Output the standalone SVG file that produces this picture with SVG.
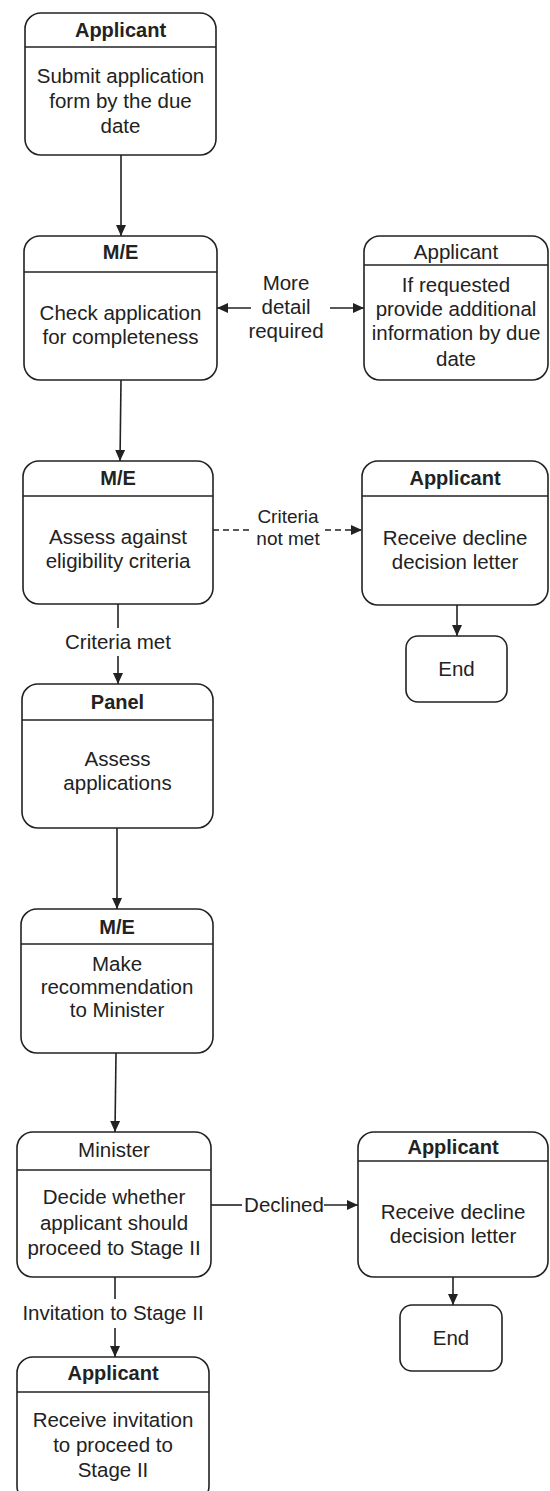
<svg xmlns="http://www.w3.org/2000/svg" width="550" height="1491" viewBox="0 0 550 1491">
<defs>
<style>
.box{fill:#fff;stroke:#222;stroke-width:1.6}
.hl{stroke:#222;stroke-width:1.6}
.t{font-family:"Liberation Sans",Arial,sans-serif;font-size:20.5px;fill:#222;text-anchor:middle}
.b{font-weight:bold;font-size:20px}
.s{font-size:19px}
.c{fill:none;stroke:#222;stroke-width:1.6}
</style>
<marker id="ah" markerUnits="userSpaceOnUse" markerWidth="12" markerHeight="12" viewBox="0 0 12 12" refX="11" refY="6" orient="auto">
<path d="M0,1 L11,6 L0,11 Z" fill="#222"/>
</marker>
</defs>
<rect width="550" height="1491" fill="#fff"/>

<g id="connectors">
<line class="c" x1="121" y1="155" x2="121" y2="236" marker-end="url(#ah)"/>
<line class="c" x1="121" y1="380" x2="120" y2="461" marker-end="url(#ah)"/>
<line class="c" x1="251" y1="308" x2="217" y2="308" marker-end="url(#ah)"/>
<line class="c" x1="330" y1="308" x2="364" y2="308" marker-end="url(#ah)"/>
<text class="t" x="286" y="290">More</text>
<text class="t" x="286" y="314">detail</text>
<text class="t" x="286" y="338">required</text>
<line class="c" x1="213" y1="530" x2="251" y2="530" stroke-dasharray="6,4"/>
<line class="c" x1="325" y1="530" x2="362" y2="530" stroke-dasharray="6,4" marker-end="url(#ah)"/>
<text class="t s" x="288" y="523">Criteria</text>
<text class="t s" x="288" y="545">not met</text>
<line class="c" x1="457" y1="605" x2="457" y2="636" marker-end="url(#ah)"/>
<line class="c" x1="118" y1="604" x2="118" y2="628"/>
<text class="t" x="118" y="649">Criteria met</text>
<line class="c" x1="118" y1="656" x2="118" y2="684" marker-end="url(#ah)"/>
<line class="c" x1="117" y1="828" x2="117" y2="909" marker-end="url(#ah)"/>
<line class="c" x1="116" y1="1053" x2="115" y2="1132" marker-end="url(#ah)"/>
<line class="c" x1="211" y1="1205" x2="242" y2="1205"/>
<text class="t" x="284" y="1212">Declined</text>
<line class="c" x1="324" y1="1205" x2="358" y2="1205" marker-end="url(#ah)"/>
<line class="c" x1="453" y1="1277" x2="453" y2="1305" marker-end="url(#ah)"/>
<line class="c" x1="115" y1="1277" x2="115" y2="1299"/>
<text class="t" x="113" y="1320">Invitation to Stage II</text>
<line class="c" x1="115" y1="1328" x2="115" y2="1357" marker-end="url(#ah)"/>
</g>

<g id="n1">
<rect class="box" x="25" y="13" width="191" height="142" rx="16"/>
<line class="hl" x1="25" y1="47" x2="216" y2="47"/>
<text class="t b" x="120.5" y="37">Applicant</text>
<text class="t" x="120.5" y="83">Submit application</text>
<text class="t" x="120.5" y="108">form by the due</text>
<text class="t" x="120.5" y="133">date</text>
</g>

<g id="n2">
<rect class="box" x="24" y="236" width="193" height="144" rx="16"/>
<line class="hl" x1="24" y1="272" x2="217" y2="272"/>
<text class="t b" x="120.5" y="259">M/E</text>
<text class="t" x="120.5" y="320">Check application</text>
<text class="t" x="120.5" y="344">for completeness</text>
</g>

<g id="r1">
<rect class="box" x="364" y="236" width="184" height="144" rx="16"/>
<line class="hl" x1="364" y1="265" x2="548" y2="265"/>
<text class="t" x="456" y="259">Applicant</text>
<text class="t" x="456" y="292">If requested</text>
<text class="t" x="456" y="316">provide additional</text>
<text class="t" x="456" y="340">information by due</text>
<text class="t" x="456" y="366">date</text>
</g>

<g id="n3">
<rect class="box" x="23" y="461" width="190" height="143" rx="16"/>
<line class="hl" x1="23" y1="496" x2="213" y2="496"/>
<text class="t b" x="118" y="485">M/E</text>
<text class="t" x="118" y="544">Assess against</text>
<text class="t" x="118" y="568">eligibility criteria</text>
</g>

<g id="r2">
<rect class="box" x="362" y="461" width="186" height="144" rx="16"/>
<line class="hl" x1="362" y1="496" x2="548" y2="496"/>
<text class="t b" x="455" y="485">Applicant</text>
<text class="t" x="455" y="545">Receive decline</text>
<text class="t" x="455" y="569">decision letter</text>
</g>

<g id="end1">
<rect class="box" x="406" y="636" width="101" height="66" rx="12"/>
<text class="t" x="456.5" y="676">End</text>
</g>

<g id="n4">
<rect class="box" x="22" y="684" width="191" height="144" rx="16"/>
<line class="hl" x1="22" y1="720" x2="213" y2="720"/>
<text class="t b" x="117.5" y="709">Panel</text>
<text class="t" x="117.5" y="766">Assess</text>
<text class="t" x="117.5" y="790">applications</text>
</g>

<g id="n5">
<rect class="box" x="21" y="909" width="192" height="144" rx="16"/>
<line class="hl" x1="21" y1="944" x2="213" y2="944"/>
<text class="t b" x="117" y="934">M/E</text>
<text class="t" x="117" y="971">Make</text>
<text class="t" x="117" y="994">recommendation</text>
<text class="t" x="117" y="1017">to Minister</text>
</g>

<g id="n6">
<rect class="box" x="17" y="1132" width="194" height="145" rx="16"/>
<line class="hl" x1="17" y1="1170" x2="211" y2="1170"/>
<text class="t" x="114" y="1157">Minister</text>
<text class="t" x="114" y="1204">Decide whether</text>
<text class="t" x="114" y="1230">applicant should</text>
<text class="t" x="114" y="1255">proceed to Stage II</text>
</g>

<g id="r3">
<rect class="box" x="358" y="1132" width="190" height="145" rx="16"/>
<line class="hl" x1="358" y1="1161" x2="548" y2="1161"/>
<text class="t b" x="453" y="1154">Applicant</text>
<text class="t" x="453" y="1219">Receive decline</text>
<text class="t" x="453" y="1243">decision letter</text>
</g>

<g id="end2">
<rect class="box" x="400" y="1305" width="102" height="66" rx="12"/>
<text class="t" x="451" y="1345">End</text>
</g>

<g id="n7">
<rect class="box" x="17" y="1357" width="192" height="145" rx="16"/>
<line class="hl" x1="17" y1="1392" x2="209" y2="1392"/>
<text class="t b" x="113" y="1380">Applicant</text>
<text class="t" x="113" y="1427">Receive invitation</text>
<text class="t" x="113" y="1452">to proceed to</text>
<text class="t" x="113" y="1477">Stage II</text>
</g>
</svg>
